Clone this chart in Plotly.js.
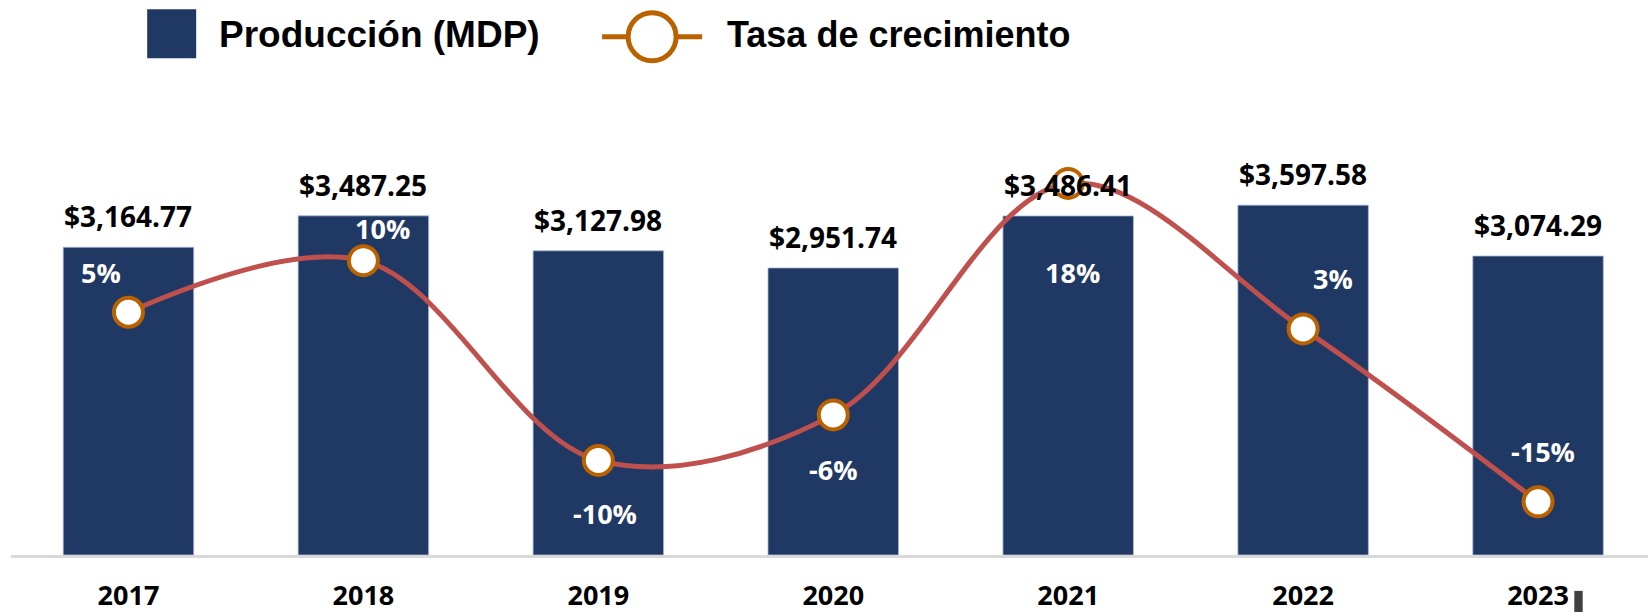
<!DOCTYPE html>
<html>
<head>
<meta charset="utf-8">
<script src="https://cdn.plot.ly/plotly-3.0.1.min.js"></script>
<style>html,body{margin:0;padding:0;background:#fff;}#chart{width:1648px;height:612px;}</style>
</head>
<body>
<div id="chart"></div>
<script>
// ---- data ----
const years = ['2017', '2018', '2019', '2020', '2021', '2022', '2023'];
const production = [3164.77, 3487.25, 3127.98, 2951.74, 3486.41, 3597.58, 3074.29];
const growth = [0.049, 0.1019, -0.1030, -0.0563, 0.1811, 0.0319, -0.1455];
const seriesNames = ['Producción (MDP)', 'Tasa de crecimiento'];

// ---- styling ----
const W = 1648, H = 612;
const M = {l: 10.8, r: 0, t: 165.8, b: 57.2};
const PW = W - M.l - M.r, PH = H - M.t - M.b;
const px = x => (x - M.l) / PW;
const py = y => 1 - (y - M.t) / PH;
const BAR = '#203864', LINE = '#C0504D', MK = '#BA6100';
// pixel offsets of growth labels relative to their markers
const pctOffsets = [[-27, 40], [19, 32], [7, -53], [0, -55], [4, -89], [30, 50], [5, 50]];

const fmtMoney = v => '$' + v.toLocaleString('en-US', {minimumFractionDigits: 2, maximumFractionDigits: 2});
const fmtPct = v => Math.round(v * 100) + '%';

const traces = [
  {
    type: 'bar', name: seriesNames[0], x: years, y: production,
    marker: {color: BAR, line: {color: 'rgba(170,185,215,0.8)', width: 1}},
    hoverinfo: 'skip', showlegend: false
  },
  {
    type: 'scatter', mode: 'lines+markers', name: seriesNames[1], x: years, y: growth, yaxis: 'y2',
    line: {color: LINE, width: 5, shape: 'spline', smoothing: 1},
    marker: {size: 29, color: '#ffffff', line: {color: MK, width: 4}},
    cliponaxis: false, hoverinfo: 'skip', showlegend: false
  }
];

const annotations = [];
years.forEach((yr, i) => {
  // category axis: annotations are positioned by category index
  annotations.push({
    xref: 'x', yref: 'y', x: i, y: production[i], text: fmtMoney(production[i]),
    showarrow: false, xanchor: 'center', yanchor: 'bottom', yshift: 10,
    font: {family: 'Open Sans', size: 28, color: '#000000', weight: 'bold'}
  });
  annotations.push({
    xref: 'x', yref: 'y2', x: i, y: growth[i], text: fmtPct(growth[i]),
    showarrow: false, xanchor: 'center', yanchor: 'middle',
    xshift: pctOffsets[i][0], yshift: pctOffsets[i][1],
    font: {family: 'Open Sans', size: 27, color: '#ffffff', weight: 'bold'}
  });
});
// legend text
annotations.push({
  xref: 'paper', yref: 'paper', x: px(217), y: py(34), xanchor: 'left', yanchor: 'middle',
  text: seriesNames[0], showarrow: false,
  font: {family: 'Liberation Sans', size: 37, color: '#000000', weight: 'bold'}
});
annotations.push({
  xref: 'paper', yref: 'paper', x: px(725), y: py(34), xanchor: 'left', yanchor: 'middle',
  text: seriesNames[1], showarrow: false,
  font: {family: 'Liberation Sans', size: 36, color: '#000000', weight: 'bold'}
});

const shapes = [
  // legend: bar swatch
  {type: 'rect', xref: 'paper', yref: 'paper', x0: px(147), x1: px(196), y0: py(9), y1: py(58),
   fillcolor: BAR, line: {width: 0}},
  // legend: line + circle
  {type: 'line', xref: 'paper', yref: 'paper', x0: px(602), x1: px(702), y0: py(36.5), y1: py(36.5),
   line: {color: MK, width: 5}},
  {type: 'circle', xref: 'paper', yref: 'paper', x0: px(652 - 24), x1: px(652 + 24), y0: py(36.5 - 24), y1: py(36.5 + 24),
   fillcolor: '#ffffff', line: {color: MK, width: 5}},
  // small dark marker next to last tick label
  {type: 'rect', xref: 'paper', yref: 'paper', x0: px(1574.3), x1: px(1582.7), y0: py(590.7), y1: py(612),
   fillcolor: '#404040', line: {width: 0}}
];

const layout = {
  width: W, height: H,
  margin: M,
  paper_bgcolor: '#ffffff', plot_bgcolor: '#ffffff',
  showlegend: false,
  bargap: 0.4445,
  xaxis: {
    type: 'category', range: [-0.5, 6.468], fixedrange: true,
    showline: true, linecolor: '#D9D9D9', linewidth: 3,
    showgrid: false, zeroline: false, ticks: '',
    ticklabelstandoff: 15,
    tickfont: {family: 'Open Sans', size: 27, color: '#000000', weight: 'bold'}
  },
  yaxis: {range: [0, 4000], visible: false, fixedrange: true},
  yaxis2: {range: [-0.2, 0.199], overlaying: 'y', visible: false, fixedrange: true},
  annotations: annotations,
  shapes: shapes
};

Plotly.newPlot('chart', traces, layout, {displayModeBar: false, staticPlot: true});
</script>
</body>
</html>
